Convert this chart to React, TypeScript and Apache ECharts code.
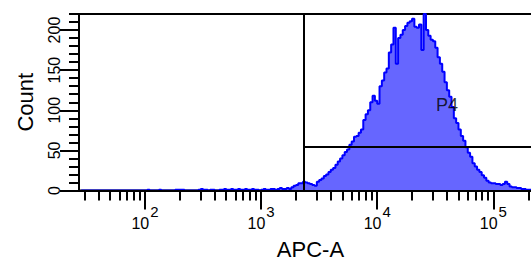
import React, { useEffect, useRef } from "react";
import * as echarts from "echarts";

// Histogram bins: centre of the first bin and bin width, in log10(APC-A) units
const binStartLog = 1.45;
const binWidthLog = 0.02;
// Event counts per bin
const counts = [
  0, 0, 0, 0, 0, 0, 0, 0, 0, 0,
  0, 0, 0, 0, 0, 0, 0, 0, 0, 0,
  0, 0, 0, 0, 0, 0, 0, 0, 0, 1,
  0, 0, 0, 0, 1, 0, 0, 0, 0, 0,
  0, 1, 1, 1, 1, 0, 0, 0, 0, 0,
  0, 1, 2, 1, 1, 0, 1, 1, 0, 0,
  1, 1, 2, 1, 1, 2, 1, 1, 2, 1,
  1, 2, 1, 1, 2, 1, 1, 0, 1, 2,
  1, 1, 2, 2, 1, 2, 3, 2, 2, 3,
  2, 4, 6, 7, 9, 9, 11, 10, 9, 8,
  7, 6, 11, 13, 15, 18, 20, 23, 26, 28,
  32, 36, 40, 44, 48, 51, 57, 61, 67, 68,
  72, 76, 88, 95, 100, 110, 118, 112, 108, 130,
  137, 147, 152, 172, 182, 203, 158, 190, 194, 200,
  205, 209, 211, 214, 204, 203, 207, 175, 220, 200,
  193, 188, 186, 178, 166, 158, 148, 135, 125, 117,
  104, 90, 84, 76, 68, 62, 54, 47, 42, 34,
  30, 26, 23, 19, 16, 12, 10, 9, 9, 8,
  8, 7, 8, 11, 8, 5, 4, 4, 3, 3,
  2, 2, 1, 1, 1, 0, 0, 0, 0, 0,
];

// Axis range (APC-A) and ticks
const xMinValue = 27;
const xMaxValue = 262144;
const xMajorTickValues = [100, 1000, 10000, 100000];
const xMinorTickValues = [
  30, 40, 50, 60, 70, 80, 90,
  200, 300, 400, 500, 600, 700, 800, 900,
  2000, 3000, 4000, 5000, 6000, 7000, 8000, 9000,
  20000, 30000, 40000, 50000, 60000, 70000, 80000, 90000,
  200000,
];
const yMax = 220;
const yMajorTicks = [0, 50, 100, 150, 200];
const yMinorTicks = [10, 20, 30, 40, 60, 70, 80, 90, 110, 120, 130, 140, 160, 170, 180, 190, 210, 220];

// Gate P4
const gateName = "P4";
const gateThreshold = 2340;
const gateLevel = 54;
const gateLabelAt = [39900, 106];

const FONT = "'Liberation Sans', Arial, sans-serif";
const INK = "#000000";

export default function App() {
  const ref = useRef<HTMLDivElement>(null);

  useEffect(() => {
    if (!ref.current) return;
    const chart = echarts.init(ref.current, undefined, { renderer: "svg" });
    const lg = (v: number) => Math.log10(v);
    const xMin = lg(xMinValue);
    const xMax = lg(xMaxValue);
    const histData = counts.map((c, i) => [binStartLog + i * binWidthLog, c]);
    const gx = lg(gateThreshold);

    chart.setOption({
      animation: false,
      grid: {
        left: 79,
        right: -10.9,
        top: 14,
        bottom: 70.5,
        show: true,
        borderColor: INK,
        borderWidth: 2,
        backgroundColor: "transparent",
        outerBoundsMode: "none",
      },
      xAxis: [
        {
          type: "value",
          min: xMin,
          max: xMax,
          position: "bottom",
          z: 5,
          axisLine: { show: true, lineStyle: { color: INK, width: 2 } },
          axisTick: {
            show: true,
            customValues: xMajorTickValues.map(lg),
            length: 19,
            lineStyle: { color: INK, width: 2 },
          },
          axisLabel: {
            show: true,
            customValues: xMajorTickValues.map(lg),
            margin: 13,
            formatter: (v: number) => `{b|10}{s|${Math.round(v)}}`,
            rich: {
              b: { fontSize: 16, fontFamily: FONT, color: INK, padding: [12, 0, 0, 0] },
              s: { fontSize: 15, fontFamily: FONT, color: INK, padding: [0, 0, 12, 1] },
            },
          },
          splitLine: { show: false },
          name: "APC-A",
          nameLocation: "middle",
          nameGap: 48,
          nameTextStyle: { fontSize: 22, fontFamily: FONT, color: INK },
        },
        {
          type: "value",
          min: xMin,
          max: xMax,
          position: "bottom",
          z: 5,
          axisLine: { show: false },
          axisTick: {
            show: true,
            customValues: xMinorTickValues.map(lg),
            length: 10,
            lineStyle: { color: INK, width: 2 },
          },
          axisLabel: { show: false },
          splitLine: { show: false },
        },
      ],
      yAxis: [
        {
          type: "value",
          min: 0,
          max: yMax,
          position: "left",
          z: 5,
          axisLine: { show: true, lineStyle: { color: INK, width: 2 } },
          axisTick: {
            show: true,
            customValues: yMajorTicks,
            length: 19,
            lineStyle: { color: INK, width: 2 },
          },
          axisLabel: {
            show: true,
            customValues: yMajorTicks,
            rotate: 90,
            margin: 17,
            fontSize: 16,
            fontFamily: FONT,
            color: INK,
          },
          splitLine: { show: false },
          name: "Count",
          nameLocation: "middle",
          nameGap: 43,
          nameTextStyle: { fontSize: 22, fontFamily: FONT, color: INK },
        },
        {
          type: "value",
          min: 0,
          max: yMax,
          position: "left",
          z: 5,
          axisLine: { show: false },
          axisTick: {
            show: true,
            customValues: yMinorTicks,
            length: 10,
            lineStyle: { color: INK, width: 2 },
          },
          axisLabel: { show: false },
          splitLine: { show: false },
        },
      ],
      series: [
        {
          type: "line",
          step: "middle",
          data: histData,
          symbol: "none",
          lineStyle: { color: "#0000ff", width: 2 },
          areaStyle: { color: "#6666ff", opacity: 1 },
          z: 2,
          markLine: {
            silent: true,
            symbol: "none",
            label: { show: false },
            lineStyle: { color: INK, width: 2, type: "solid" },
            data: [
              [{ coord: [gx, 0] }, { coord: [gx, yMax] }],
              [{ coord: [gx, gateLevel] }, { coord: [xMax, gateLevel] }],
            ],
          },
        },
        {
          type: "scatter",
          data: [[lg(gateLabelAt[0]), gateLabelAt[1]]],
          symbolSize: 0,
          z: 6,
          label: {
            show: true,
            position: "inside",
            formatter: gateName,
            fontSize: 18,
            fontFamily: FONT,
            color: INK,
          },
        },
      ],
    });
    return () => chart.dispose();
  }, []);

  return (
    <div
      ref={ref}
      style={{ position: "fixed", left: 0, top: 0, width: 531, height: 261, background: "#fff" }}
    />
  );
}
